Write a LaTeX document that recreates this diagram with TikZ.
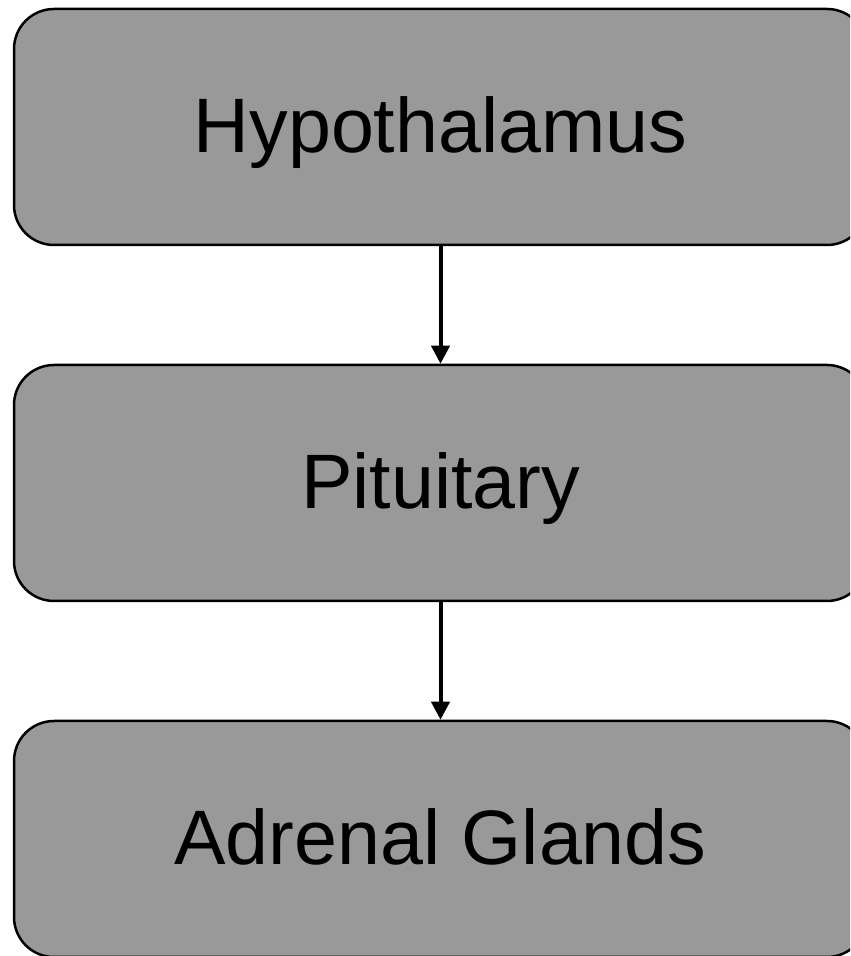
\documentclass[tikz,border=0pt]{standalone}
\usepackage{fontspec}
\setmainfont{Liberation Sans}
\usepackage{tikz}
\usetikzlibrary{arrows.meta}

\definecolor{boxgray}{RGB}{153,153,153}

\begin{document}
\begin{tikzpicture}[
        x=1pt, y=1pt,
        stage/.style={draw, line width=1.25pt, fill=boxgray, rounded corners=20pt,
            minimum width=426.5pt, minimum height=118pt, text height=26pt, text depth=0pt,
            font=\fontsize{38.6}{44}\selectfont},
        link/.style={-{Triangle[length=9pt, width=9pt]}, line width=2pt}]
        \useasboundingbox (0,0) rectangle (425,478);
        \clip (0,0) rectangle (425,478);
        \node[stage] (hypo) at (220.25,414.5) {Hypothalamus};
        \node[stage] (pit) at (220.25,236.5) {Pituitary};
        \node[stage] (adr) at (220.25,58.5) {Adrenal Glands};
        \draw[link] (hypo) -- (pit);
        \draw[link] (pit) -- (adr);
\end{tikzpicture}
\end{document}
